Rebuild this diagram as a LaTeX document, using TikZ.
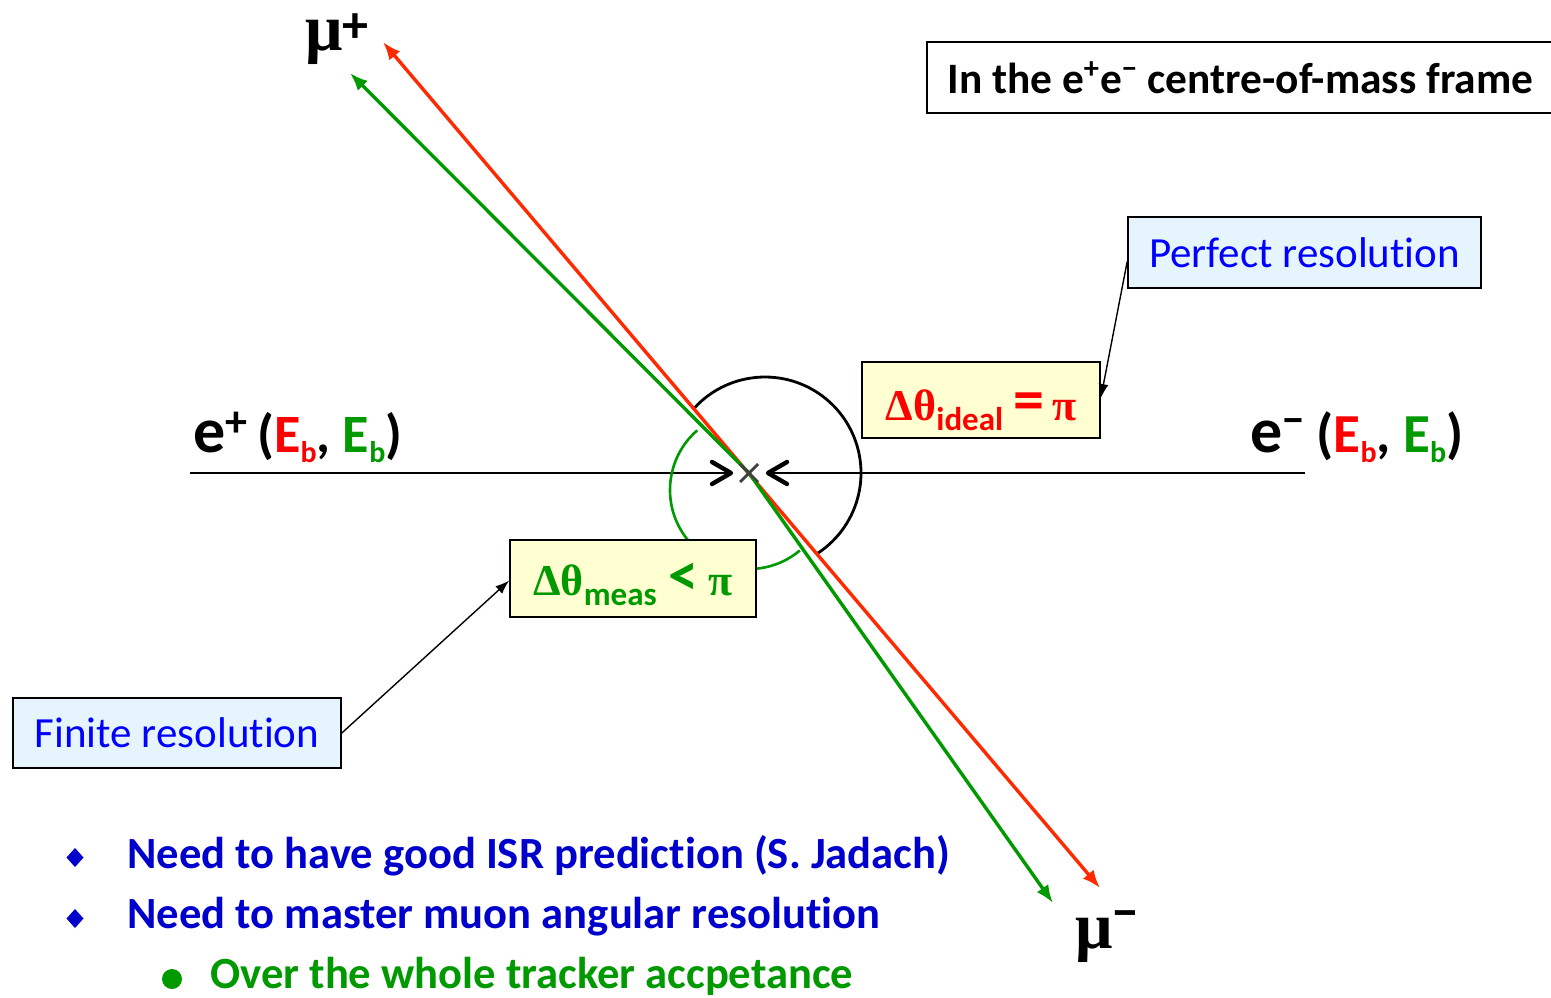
\documentclass[tikz,border=0pt]{standalone}
\usepackage{fontspec}
\setmainfont{Carlito}[Ligatures=NoCommon]
\newfontfamily\grk{Liberation Serif}
\usetikzlibrary{arrows.meta,calc}
\definecolor{trkred}{HTML}{FF2A00}
\definecolor{txtred}{HTML}{FF0000}
\definecolor{mygreen}{HTML}{009900}
\definecolor{boxblue}{HTML}{E6F4FE}
\definecolor{boxyellow}{HTML}{FFFFD2}
\definecolor{txtblue}{HTML}{0000FF}
\definecolor{bulblue}{HTML}{0000CC}
\newcommand{\fsz}[1]{\fontsize{#1}{#1}\selectfont}
\tikzset{
  trk/.tip={Latex[length=9pt,width=7pt]},
  ptr/.tip={Latex[length=7pt,width=5pt]},
  labelbox/.style={draw=black, line width=0.8pt, inner sep=0pt},
  bluebox/.style={labelbox, fill=boxblue, text=txtblue},
  yelbox/.style={labelbox, fill=boxyellow},
  trackline/.style={line width=1.7pt},
  pointer/.style={line width=0.7pt, -ptr},
  plaintext/.style={inner sep=0pt, anchor=base west},
  chevron/.style={line width=2.2pt, line cap=round, line join=round},
}
\begin{document}
\begin{tikzpicture}[x=0.5pt,y=-0.5pt]
\useasboundingbox (0,0) rectangle (1551,997);
% key points
\coordinate (C) at (749,473);
\coordinate (beamL) at (190,473);
\coordinate (beamR) at (1305,473);
\coordinate (chL) at (731,473);
\coordinate (chR) at (768,473);
\coordinate (redTop) at (383,42);
\coordinate (redBot) at (1100,888);
\coordinate (grnTop) at (350,73);
\coordinate (grnBot) at (1053,903);
\coordinate (K) at (765,473);
\coordinate (G) at (749,490);
% beam line
\draw[line width=0.7pt] (beamL) -- (chL);
\draw[line width=0.7pt] (chR) -- (beamR);
% angle arcs
\draw[line width=1.4pt] (K) ++(137.6:48pt) arc[start angle=137.6, end angle=-56.5, radius=48pt];
\draw[line width=1.3pt, mygreen] (G) ++(131:39.5pt) arc[start angle=131, end angle=310, radius=39.5pt];
% tracks
\draw[trackline, trkred, trk-trk] (redTop) -- (redBot);
\draw[trackline, mygreen, -trk] (C) -- (grnTop);
\draw[trackline, mygreen, -trk] (C) -- (grnBot);
% chevrons and vertex cross
\draw[chevron] (712,462) -- (chL) -- (712,484);
\draw[chevron] (787,462) -- (chR) -- (787,484);
\draw[line width=1.4pt, black!75] (740,464) -- (758,482) (740,482) -- (758,464);
% boxes
\node (frame) [labelbox, anchor=north west, minimum width=317pt, minimum height=35.5pt] at (926,41) {};
\node (frametext) [inner sep=0pt, anchor=west] at ([xshift=10.5pt]frame.west)
  {\bfseries\fsz{21.7}In the e\textsuperscript{+}e\textsuperscript{−} centre-of-mass frame};
\node (perfect) [bluebox, minimum width=176.5pt, minimum height=35.5pt] at (1304.5,252.5)
  {\fsz{21.5}Perfect resolution};
\node (finite) [bluebox, minimum width=164pt, minimum height=35pt] at (177,733)
  {\fsz{21.5}Finite resolution};
\node (ideal) [yelbox, minimum width=119pt, minimum height=38pt, text height=22pt, text depth=2pt] at (981,400)
  {\color{txtred}\bfseries{\grk\fsz{22}Δθ}\raisebox{-5pt}{\fsz{16.5}ideal}\hspace{5pt}{\fsz{31}=}\hspace{4pt}{\grk\fsz{22}π}};
\node (meas) [yelbox, minimum width=123pt, minimum height=38.5pt, text height=18.5pt, text depth=2pt] at (633,578.5)
  {\color{mygreen}\bfseries{\grk\fsz{22}Δθ}\raisebox{-5pt}{\fsz{16.5}meas}\hspace{6pt}{\fsz{30}<}\hspace{5pt}{\grk\fsz{22}π}};
% pointers
\draw[pointer] ([yshift=-4.5pt]perfect.west) -- ([yshift=1pt]ideal.east);
\draw[pointer] (finite.east) -- ([yshift=-1pt]meas.west);
% particle labels
\node (mup) [plaintext] at (305,50) {\grk\bfseries\fsz{33}μ\raisebox{4pt}{\rmfamily\fsz{26}+}};
\node (mum) [plaintext] at (1075,948) {\grk\bfseries\fsz{33}μ\raisebox{9.5pt}{\rmfamily\fsz{26}−}};
\node (ep) [plaintext] at (193,452) {\bfseries{\fsz{32}e}\raisebox{7.7pt}{\fsz{22}+}\hspace{5pt}{\fsz{27}(\textcolor{txtred}{E\raisebox{-5pt}{\fsz{15}b}}, \textcolor{mygreen}{E\raisebox{-5pt}{\fsz{15}b}})}};
\node (em) [plaintext] at (1250,452) {\bfseries{\fsz{32}e}\raisebox{8.7pt}{\fsz{22}−}\hspace{6pt}{\fsz{27.5}(\textcolor{txtred}{E\raisebox{-5pt}{\fsz{15}b}}, \textcolor{mygreen}{E\raisebox{-5pt}{\fsz{15}b}})}};
% bullets
\fill[bulblue] (75,848) -- (83.5,857.5) -- (75,867) -- (66.5,857.5) -- cycle;
\fill[bulblue] (75,909) -- (83.5,918.5) -- (75,928) -- (66.5,918.5) -- cycle;
\fill[mygreen] (172,979) circle[radius=5pt];
\node (b1) [plaintext, text=bulblue] at (127,868) {\bfseries\fsz{22.3}Need to have good ISR prediction (S. Jadach)};
\node (b2) [plaintext, text=bulblue] at (127,928) {\bfseries\fsz{22.3}Need to master muon angular resolution};
\node (b3) [plaintext, text=mygreen] at (210,988) {\bfseries\fsz{22.3}Over the whole tracker accpetance};
\end{tikzpicture}
\end{document}
